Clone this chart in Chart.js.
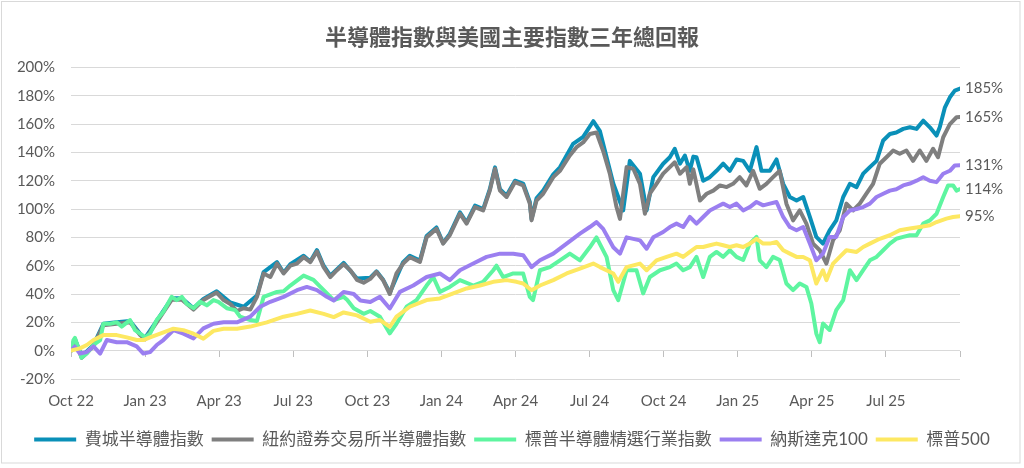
<!DOCTYPE html>
<html>
<head>
<meta charset="utf-8">
<script src="https://cdn.jsdelivr.net/npm/chart.js@4"></script>
<style>
  html, body { margin: 0; padding: 0; background: #fff; }
</style>
</head>
<body>
<canvas id="chart" width="1024" height="468"></canvas>
<script>
// months since start of Oct 2022, total return in %
const title = "半導體指數與美國主要指數三年總回報";
const seriesNames = ["費城半導體指數", "紐約證券交易所半導體指數", "標普半導體精選行業指數", "納斯達克100", "標普500"];
const seriesColors = ["#0a90b8", "#7f7f7f", "#5ef5a0", "#9b7ff0", "#fde862"];
const endLabels = ["185%", "165%", "114%", "131%", "95%"];
const xLabels = ["Oct 22", "Jan 23", "Apr 23", "Jul 23", "Oct 23", "Jan 24", "Apr 24", "Jul 24", "Oct 24", "Jan 25", "Apr 25", "Jul 25", ""];

const phlx = [[0,0],[0.16,8],[0.43,-4],[0.91,4],[1.31,19],[1.85,20],[2.39,21],[2.8,12],[3.0,9],[3.47,21],[4.08,37],[4.49,37],[4.96,30],[5.36,36.5],[5.9,42],[6.45,34],[6.99,31],[7.53,39],[7.8,55.5],[8.34,62.5],[8.61,55],[8.88,61],[9.42,67],[9.69,63],[9.96,71],[10.23,60],[10.5,53],[11.04,62],[11.58,51],[12.12,51.5],[12.37,56],[12.64,50],[12.91,41],[13.45,62.5],[13.72,67],[14.13,63.7],[14.4,81],[14.8,87],[15.07,76],[15.34,82.5],[15.75,97.7],[16.02,90.5],[16.36,102.4],[16.69,100],[16.96,114],[17.17,129.4],[17.37,114],[17.64,109.5],[17.98,120],[18.31,118],[18.58,105],[18.65,93],[18.85,107.5],[19.12,113],[19.53,124.5],[19.8,129.5],[20.33,146],[20.74,151],[21.15,162],[21.42,155],[21.96,118],[22.36,99],[22.63,134],[23.04,125],[23.31,99],[23.58,122.5],[23.98,132],[24.25,136.6],[24.45,142.5],[24.66,132],[24.86,137.8],[25.06,127],[25.2,137],[25.33,136.6],[25.6,120],[25.87,122.5],[26.14,127],[26.41,132],[26.68,127],[26.95,135],[27.22,134],[27.49,127],[27.76,143.7],[27.96,127],[28.3,127],[28.57,135],[28.84,117.8],[29.11,108.5],[29.38,106],[29.65,108.5],[29.92,94.4],[30.18,80.3],[30.45,75.6],[30.72,85],[30.99,92],[31.27,108.5],[31.54,117.8],[31.81,115.5],[32.08,125],[32.35,129.6],[32.62,134],[32.89,148.4],[33.16,153],[33.42,154],[33.7,156.6],[33.97,157.7],[34.24,156.6],[34.51,162.4],[34.78,157.7],[35.05,151.9],[35.18,157.7],[35.39,171.8],[35.59,178.9],[35.79,183.6],[36,185]];

const nyseSemi = [[0,0],[0.16,8],[0.43,-5],[0.91,3],[1.31,18],[1.85,19],[2.39,20],[2.8,11],[3.0,8],[3.47,20],[4.08,36],[4.49,36],[4.96,29],[5.36,35.7],[5.9,41],[6.18,35.7],[6.45,33],[6.72,28],[6.99,30],[7.26,29],[7.53,38],[7.8,54.5],[8.07,52],[8.34,61.5],[8.61,54.5],[8.88,60],[9.15,61.5],[9.42,66],[9.69,62.5],[9.96,70],[10.23,59],[10.5,52],[10.77,56.8],[11.04,61],[11.31,56.8],[11.58,50],[11.85,48],[12.12,50.7],[12.37,55.6],[12.64,49.8],[12.91,40],[13.18,54.5],[13.45,61.5],[13.72,66],[14.13,62.7],[14.4,80],[14.8,86],[15.07,75.6],[15.34,81.5],[15.75,96.7],[16.02,89.7],[16.36,101.4],[16.69,99],[16.96,113],[17.17,128.4],[17.37,113],[17.64,108.5],[17.98,119],[18.31,116.7],[18.58,103.8],[18.65,92],[18.85,106],[19.12,110.8],[19.53,122.5],[19.8,127],[20.2,137.8],[20.47,143.7],[20.74,147],[21.01,153],[21.28,154],[21.55,141],[21.82,125],[22.09,101.4],[22.23,93],[22.5,129.6],[22.77,128.4],[23.04,117.8],[23.24,96.7],[23.44,110.8],[23.71,117.8],[23.98,125],[24.25,129.6],[24.45,133],[24.66,124.9],[24.93,129.6],[25.06,117.8],[25.2,128],[25.47,106],[25.74,110.8],[26.01,113],[26.28,116.7],[26.55,115.5],[26.81,117.8],[27.08,122.5],[27.35,116.7],[27.62,127],[27.89,114.3],[28.16,117.8],[28.43,122.5],[28.7,127],[28.97,103.8],[29.24,92],[29.51,99],[29.78,89.7],[30.05,75.6],[30.32,70.9],[30.59,61.5],[30.86,78],[31.13,85],[31.4,103.8],[31.67,99],[31.94,103.8],[32.21,110.8],[32.48,117.8],[32.75,132],[33.02,136.6],[33.29,141.3],[33.56,139],[33.83,141.3],[34.1,134],[34.37,141.3],[34.64,134],[34.91,142.5],[35.11,136.6],[35.32,150.7],[35.59,160],[35.86,164.8],[36,165]];

const spSemi = [[0,0],[0.1,7.5],[0.16,9],[0.43,-5],[0.64,-2],[0.91,4],[1.18,7.5],[1.31,19],[1.58,19],[1.85,20],[2.05,17],[2.39,21.6],[2.59,14.5],[2.8,12],[3.0,9.4],[3.2,12],[3.47,21.6],[3.74,27.5],[4.08,38],[4.28,35.7],[4.49,38],[4.69,33],[4.96,30],[5.23,34.5],[5.5,32],[5.77,35.7],[5.97,34.5],[6.31,30],[6.65,28.6],[6.85,24],[7.26,21.6],[7.53,21],[7.8,38],[8.34,41.5],[8.61,42],[8.88,46],[9.42,53],[9.82,50],[10.1,45],[10.64,35.7],[11.04,38],[11.18,36],[11.45,30],[11.85,26],[12.12,28],[12.51,24],[12.91,12.2],[13.18,19],[13.59,31],[13.99,35.7],[14.4,46],[14.67,52],[14.94,41.5],[15.34,45],[15.75,49.8],[16.29,46],[16.69,48.6],[17.1,56.8],[17.23,60],[17.5,52],[17.91,54.5],[18.31,54.5],[18.58,38],[18.71,35.7],[18.99,56.8],[19.39,59],[19.8,63.8],[20.2,68.5],[20.61,63.8],[21.01,73],[21.28,80],[21.69,66],[21.96,42.7],[22.16,35.7],[22.5,56.8],[22.9,56.8],[23.17,40.4],[23.44,52],[23.85,56.8],[24.25,59],[24.52,61.5],[24.79,56.8],[25.06,59],[25.33,66.2],[25.6,52],[25.87,66.2],[26.14,69.7],[26.41,66.2],[26.68,70.9],[26.95,66.2],[27.22,64],[27.49,75.6],[27.76,80.3],[27.89,63.8],[28.16,59],[28.43,66.2],[28.7,64],[28.97,47.4],[29.24,42.7],[29.51,47.4],[29.78,45],[29.98,33.3],[30.18,12.2],[30.32,6],[30.45,19.2],[30.72,14.6],[30.99,28.6],[31.27,35.7],[31.54,56.8],[31.81,49.8],[32.08,56.8],[32.35,63.8],[32.62,66.2],[32.89,70.9],[33.16,75.6],[33.42,79],[33.7,80.3],[33.97,81.5],[34.24,81.5],[34.51,89.7],[34.78,92],[35.05,96.7],[35.32,108.5],[35.52,116.7],[35.72,116.7],[35.86,113],[36,114]];

const nasdaq100 = [[0,0],[0.15,2.8],[0.36,-2],[0.64,-1],[0.91,3],[1.18,-2],[1.45,7.5],[1.85,6],[2.26,6],[2.66,3],[2.93,-2],[3.2,-1],[3.47,4],[3.74,7.5],[4.15,14.5],[4.55,12],[4.96,8.7],[5.36,15.7],[5.77,19],[6.18,20],[6.72,20],[7.26,24],[7.66,31],[8.07,34.5],[8.61,38],[9.15,42.7],[9.55,45],[9.96,42.7],[10.36,38],[10.64,35.4],[11.04,41.5],[11.45,40],[11.72,35.4],[12.12,34.3],[12.51,38],[12.91,29.8],[13.32,41.5],[13.86,46],[14.4,52],[14.94,54.5],[15.34,49.8],[15.75,56.8],[16.29,61.5],[16.83,66.2],[17.37,68.5],[17.91,68.5],[18.31,67.4],[18.65,59],[18.99,63.8],[19.53,68.5],[20.07,75.6],[20.61,82.6],[21.01,87.3],[21.28,90.8],[21.55,86],[21.96,73],[22.23,68.5],[22.5,80],[23.04,77.9],[23.31,72],[23.58,80],[23.98,83.8],[24.25,87.3],[24.52,89.7],[24.79,87.3],[25.06,94.4],[25.33,89.7],[25.6,94.4],[25.87,99],[26.14,101.4],[26.41,103.8],[26.68,101.4],[26.95,103.8],[27.22,99],[27.49,101.4],[27.76,105],[28.03,102.6],[28.3,103.8],[28.57,105],[28.84,94.4],[29.11,87.3],[29.38,85],[29.65,87.3],[29.92,75.6],[30.18,63.8],[30.45,68.5],[30.72,80.3],[30.99,80.3],[31.27,94.4],[31.54,99],[31.81,100],[32.08,101.4],[32.35,103.8],[32.62,108.5],[32.89,110.8],[33.16,113],[33.42,114],[33.7,116.7],[33.97,118],[34.24,120],[34.51,122.5],[34.78,120],[35.05,119],[35.32,124.9],[35.59,127],[35.79,130.8],[36,131]];

const sp500 = [[0,0],[0.36,1.6],[0.64,4],[0.91,7.5],[1.31,11],[1.85,11],[2.26,9.4],[2.66,7.5],[2.93,7.5],[3.2,9.4],[3.61,12],[4.15,15.5],[4.55,14.5],[4.96,12],[5.36,8.5],[5.77,14],[6.18,15.5],[6.72,15.5],[7.26,17],[7.93,20],[8.61,24],[9.15,26],[9.69,28.4],[10.23,26],[10.64,23.7],[11.04,27],[11.58,24.9],[12.12,20.4],[12.51,21.6],[12.91,16.9],[13.18,24],[13.72,31],[14.4,35.7],[14.94,36.9],[15.48,40.4],[16.02,43.9],[16.56,46],[17.1,48.6],[17.64,49.8],[18.04,48.6],[18.31,47.4],[18.65,42.7],[18.99,46],[19.53,49.8],[20.07,54.5],[20.61,58],[21.15,61.5],[21.42,59],[21.96,54.5],[22.16,48.6],[22.5,59],[23.04,61.5],[23.31,56.8],[23.71,63.8],[24.12,66.2],[24.52,68.5],[24.79,66.2],[25.06,69.7],[25.33,73.2],[25.6,73.2],[25.87,74.4],[26.14,75.6],[26.41,74.4],[26.68,73.2],[26.95,74.4],[27.22,73.2],[27.49,75.6],[27.76,79],[28.03,75.6],[28.3,75.6],[28.57,76.8],[28.84,70.9],[29.11,68.5],[29.38,66.2],[29.65,66.2],[29.92,63.8],[30.18,47.4],[30.45,56.8],[30.59,49.8],[30.86,61.5],[31.13,66.2],[31.4,70.9],[31.81,69.7],[32.08,73.2],[32.35,75.6],[32.75,79],[33.16,81.5],[33.56,85],[33.97,86.2],[34.37,87.3],[34.78,88.5],[35.05,90.8],[35.45,93.2],[35.72,94.4],[36,95]];

const allSeries = [phlx, nyseSemi, spSemi, nasdaq100, sp500];

const FONT = "Lato, 'Noto Sans CJK TC', sans-serif";
Chart.defaults.font.family = FONT;
Chart.defaults.color = "#595959";

// labels at the right end of each line
const endLabelPlugin = {
  id: "endLabels",
  afterDatasetsDraw(chart) {
    const ctx = chart.ctx;
    ctx.save();
    ctx.font = "15px " + FONT;
    ctx.fillStyle = "#595959";
    ctx.textBaseline = "middle";
    chart.data.datasets.forEach((ds, i) => {
      const pts = chart.getDatasetMeta(i).data;
      const last = pts[pts.length - 1];
      ctx.fillText(endLabels[i], last.x + 5, last.y);
    });
    ctx.restore();
  },
};

const framePlugin = {
  id: "frame",
  beforeDraw(chart) {
    const ctx = chart.ctx;
    ctx.save();
    ctx.fillStyle = "#fff";
    ctx.fillRect(0, 0, chart.width, chart.height);
    ctx.restore();
  },
  afterDraw(chart) {
    const ctx = chart.ctx;
    ctx.save();
    ctx.strokeStyle = "#d9d9d9";
    ctx.lineWidth = 1;
    ctx.strokeRect(1.5, 1.5, 1018.5, 461.5);
    ctx.restore();
  },
};

new Chart(document.getElementById("chart"), {
  type: "line",
  data: {
    datasets: allSeries.map((s, i) => ({
      label: seriesNames[i],
      data: s.map(([x, y]) => ({ x, y })),
      borderColor: seriesColors[i],
      backgroundColor: seriesColors[i],
      borderWidth: 4,
      borderCapStyle: "round",
      borderJoinStyle: "round",
      pointRadius: 0,
      tension: 0,
      order: allSeries.length - i,
      xAxisID: "x",
    })),
  },
  options: {
    responsive: false,
    animation: false,
    devicePixelRatio: 1,
    layout: { padding: { left: 0, right: 0, top: 0, bottom: 10 } },
    plugins: {
      title: {
        display: true,
        text: title,
        color: "#595959",
        font: { size: 22, weight: "bold" },
        padding: { top: 25, bottom: 16 },
      },
      legend: {
        position: "bottom",
        labels: {
          usePointStyle: true,
          pointStyle: "line",
          pointStyleWidth: 42,
          font: { size: 17 },
          color: "#595959",
          padding: 8,
          sort: (a, b) => a.datasetIndex - b.datasetIndex,
        },
      },
      tooltip: { enabled: false },
    },
    scales: {
      x: {
        type: "linear",
        min: 0,
        max: 36,
        grid: { display: false, drawTicks: false },
        border: { display: false },
        ticks: {
          stepSize: 3,
          autoSkip: false,
          maxRotation: 0,
          padding: 13,
          font: { size: 15 },
          callback: (v) => xLabels[Math.round(v / 3)] ?? "",
        },
      },
      xt: {
        type: "linear",
        position: { y: 0 },
        min: 0,
        max: 36,
        grid: { drawOnChartArea: false, tickLength: 6, color: "#bfbfbf" },
        border: { display: false },
        ticks: { stepSize: 3, display: false },
      },
      y: {
        min: -20,
        max: 200,
        grid: { color: "#d9d9d9", drawTicks: false },
        border: { display: false },
        ticks: {
          stepSize: 20,
          padding: 16,
          font: { size: 15 },
          callback: (v) => v + "%",
        },
        afterFit: (scale) => {
          scale.width = 71;
        },
      },
      // empty right-hand gutter for the end labels
      yr: {
        position: "right",
        grid: { display: false, drawTicks: false },
        border: { display: false },
        ticks: { display: false },
        afterFit: (scale) => {
          scale.width = 64;
        },
      },
    },
  },
  plugins: [endLabelPlugin, framePlugin],
});
</script>
</body>
</html>
